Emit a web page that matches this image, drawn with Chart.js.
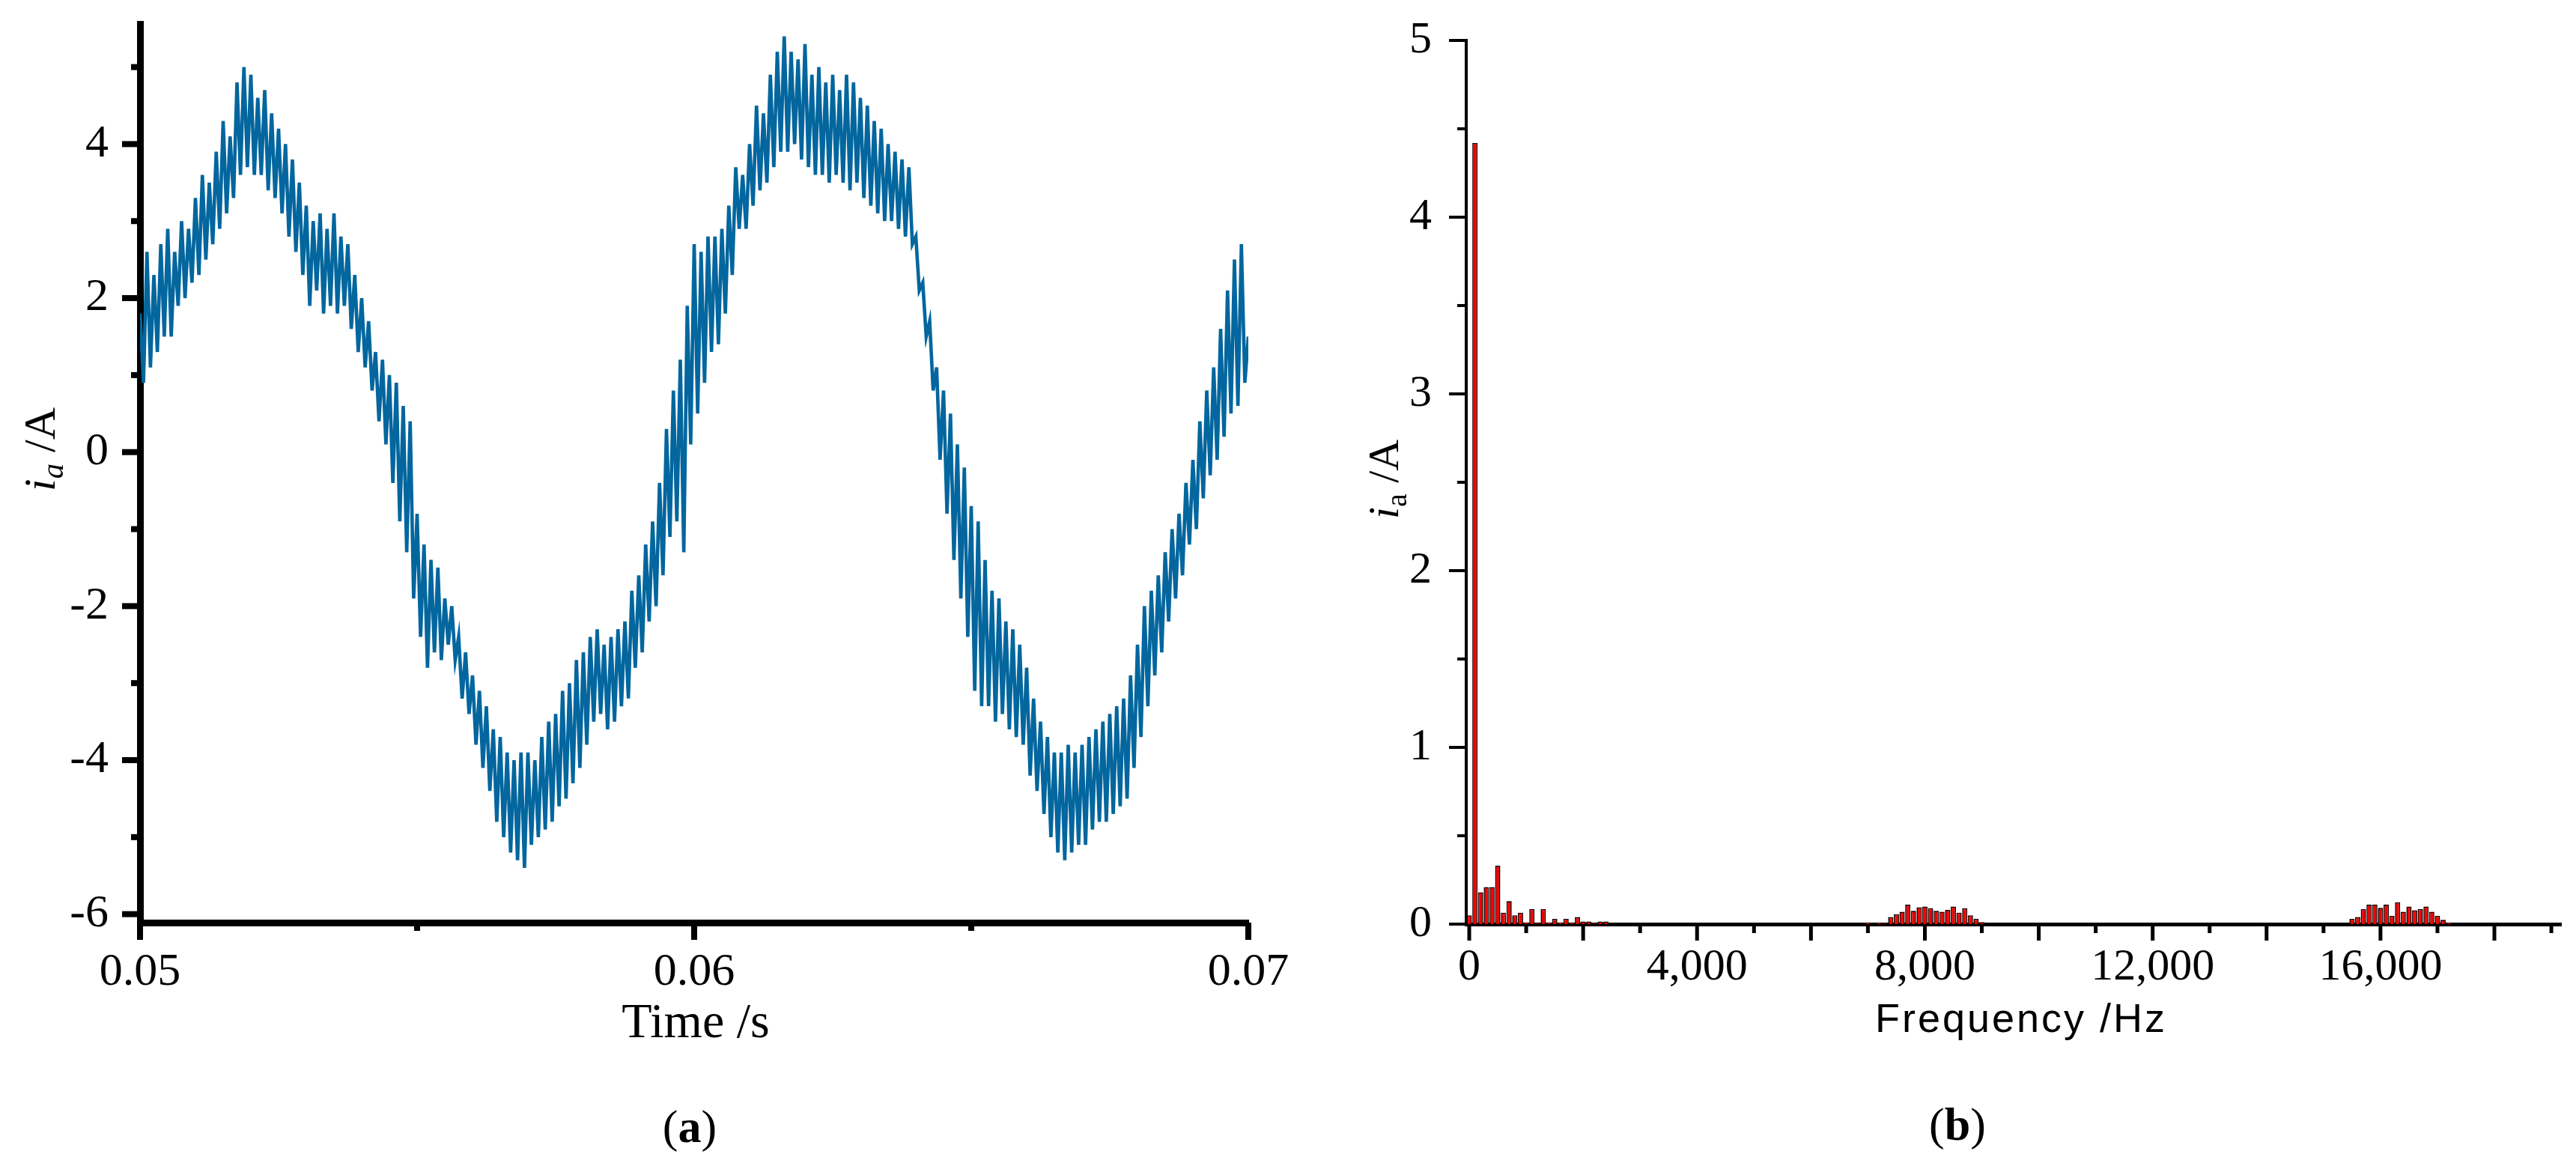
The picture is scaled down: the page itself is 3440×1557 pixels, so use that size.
<!DOCTYPE html>
<html>
<head>
<meta charset="utf-8">
<title>Phase current and spectrum</title>
<script src="https://cdn.jsdelivr.net/npm/chart.js@4.4.1/dist/chart.umd.min.js"></script>
<style>
  html, body { margin: 0; padding: 0; background: #fff; }
  body { width: 3440px; height: 1557px; position: relative; overflow: hidden; }
  canvas { position: absolute; top: 0; }
  .lbl { position: absolute; white-space: nowrap; line-height: 1; color: #000; }
  .serif { font-family: "Liberation Serif", "Times New Roman", serif; }
  .sans { font-family: "Liberation Sans", Arial, sans-serif; }
  .rot { transform: translate(-50%, -50%) rotate(-90deg); }
  .center { transform: translateX(-50%); }
  sub { font-size: 0.68em; vertical-align: -0.28em; line-height: 0; }
</style>
</head>
<body>
<canvas id="waveChart" width="1800" height="1557" style="left:0px"></canvas>
<canvas id="spectrumChart" width="1640" height="1557" style="left:1800px"></canvas>

<div class="lbl serif rot" style="left:53px; top:600px; font-size:60px;"><i>i</i><sub><i>a</i></sub> /A</div>
<div class="lbl serif center" style="left:929px; top:1330px; font-size:66px;">Time /s</div>
<div class="lbl serif center" style="left:921px; top:1473px; font-size:62px;">(<b>a</b>)</div>

<div class="lbl serif rot" style="left:1848px; top:640px; font-size:58px;"><i>i</i><sub>a</sub> /A</div>
<div class="lbl sans center" style="left:2699px; top:1332px; font-size:54px; letter-spacing:3px;">Frequency /Hz</div>
<div class="lbl serif center" style="left:2614px; top:1470px; font-size:62px;">(<b>b</b>)</div>

<script>
// (a) phase current, sampled twice per 8 kHz ripple period
const timeStart = 0.05;
const timeStep = 0.0000625;
const currentA = [
  1.8, 0.9, 2.6, 1.1, 2.3, 1.3, 2.7, 1.5, 2.9, 1.5, 2.6, 1.9, 3.0, 2.0, 2.9, 2.2,
  3.3, 2.3, 3.6, 2.5, 3.5, 2.7, 3.9, 2.9, 4.3, 3.1, 4.1, 3.3, 4.8, 3.6, 5.0, 3.7,
  4.9, 3.6, 4.6, 3.6, 4.7, 3.4, 4.4, 3.3, 4.2, 3.1, 4.0, 2.8, 3.8, 2.6, 3.5, 2.3,
  3.2, 1.9, 3.0, 2.1, 3.1, 1.8, 2.9, 1.9, 3.1, 1.8, 2.8, 1.9, 2.7, 1.6, 2.3, 1.3,
  2.0, 1.1, 1.7, 0.8, 1.3, 0.4, 1.2, 0.1, 1.0, -0.4, 0.9, -0.9, 0.6, -1.3, 0.4, -1.9,
  -0.8, -2.4, -1.2, -2.8, -1.4, -2.6, -1.5, -2.7, -1.9, -2.5, -2.0, -2.7, -2.4, -3.2, -2.6, -3.4,
  -2.9, -3.8, -3.1, -4.1, -3.3, -4.4, -3.6, -4.8, -3.7, -5.0, -3.9, -5.2, -4.0, -5.3, -3.9, -5.4,
  -3.9, -5.1, -4.0, -5.0, -3.7, -4.9, -3.5, -4.8, -3.4, -4.6, -3.1, -4.5, -3.0, -4.3, -2.7, -4.1,
  -2.6, -3.8, -2.4, -3.5, -2.3, -3.4, -2.5, -3.6, -2.4, -3.5, -2.3, -3.3, -2.2, -3.2, -1.8, -2.8,
  -1.6, -2.6, -1.2, -2.2, -0.9, -2.0, -0.4, -1.6, 0.3, -1.1, 0.8, -0.9, 1.2, -1.3, 1.9, 0.1,
  2.7, 0.5, 2.6, 0.9, 2.8, 1.3, 2.8, 1.4, 2.9, 1.8, 3.2, 2.3, 3.7, 2.9, 3.6, 2.9,
  4.0, 3.2, 4.5, 3.4, 4.4, 3.5, 4.9, 3.7, 5.2, 3.9, 5.4, 3.9, 5.2, 4.0, 5.1, 3.8,
  5.3, 3.7, 4.9, 3.6, 5.0, 3.6, 4.8, 3.5, 4.9, 3.6, 4.7, 3.5, 4.9, 3.4, 4.8, 3.5,
  4.6, 3.3, 4.5, 3.2, 4.3, 3.1, 4.2, 3.0, 4.0, 3.0, 3.9, 2.9, 3.8, 2.8, 3.7, 2.7,
  2.8, 2.1, 2.2, 1.5, 1.7, 0.8, 1.1, -0.1, 0.8, -0.8, 0.5, -1.4, 0.1, -1.9, -0.2, -2.4,
  -0.7, -3.1, -0.9, -3.3, -1.4, -3.3, -1.8, -3.5, -1.9, -3.4, -2.2, -3.6, -2.3, -3.7, -2.5, -3.8,
  -2.8, -4.2, -3.2, -4.4, -3.5, -4.7, -3.7, -5.0, -3.9, -5.2, -3.9, -5.3, -3.8, -5.2, -3.9, -5.1,
  -3.8, -5.1, -3.7, -4.9, -3.6, -4.8, -3.5, -4.8, -3.4, -4.7, -3.3, -4.6, -3.2, -4.5, -2.9, -4.1,
  -2.5, -3.7, -2.0, -3.3, -1.8, -2.9, -1.6, -2.6, -1.3, -2.2, -1.0, -1.9, -0.8, -1.6, -0.4, -1.2,
  -0.1, -1.0, 0.4, -0.6, 0.8, -0.3, 1.1, -0.1, 1.6, 0.2, 2.1, 0.5, 2.5, 0.6, 2.7, 0.9,
  1.5
];
const timeTicks = [0.05, 0.06, 0.07];
const timeMinorTicks = [0.055, 0.065];
const currentTicks = [-6, -4, -2, 0, 2, 4];
const currentMinorTicks = [-5, -3, -1, 1, 3, 5];

// (b) spectrum, 100 Hz bins (empty bins left out)
const freqHz = [
  0, 100, 200, 300, 400, 500, 600, 700, 800, 900, 1000, 1100, 1200,
  1300, 1400, 1500, 1600, 1700, 1800, 1900, 2000, 2100, 2200, 2300, 2400,
  7000, 7200, 7300, 7400, 7500, 7600, 7700, 7800, 7900, 8000,
  8100, 8200, 8300, 8400, 8500, 8600, 8700, 8800, 8900, 9000,
  15500, 15600, 15700, 15800, 15900, 16000, 16100, 16200, 16300,
  16400, 16500, 16600, 16700, 16800, 16900, 17000, 17100, 17200
];
const ampA = [
  0.05, 4.42, 0.18, 0.21, 0.21, 0.33, 0.065, 0.13, 0.05, 0.065, 0.01, 0.085, 0.005,
  0.085, 0.01, 0.03, 0.01, 0.03, 0.01, 0.04, 0.015, 0.015, 0.005, 0.015, 0.015,
  0.01, 0.01, 0.005, 0.04, 0.055, 0.07, 0.11, 0.075, 0.095, 0.1,
  0.09, 0.075, 0.07, 0.08, 0.1, 0.065, 0.09, 0.05, 0.03, 0.012,
  0.03, 0.04, 0.085, 0.11, 0.11, 0.092, 0.11, 0.047, 0.123,
  0.07, 0.1, 0.078, 0.085, 0.1, 0.07, 0.047, 0.024, 0.01
];
const freqLabelTicks = [0, 4000, 8000, 12000, 16000];
const freqMajorTicks = [0, 2000, 4000, 6000, 8000, 10000, 12000, 14000, 16000, 18000];
const freqMinorTicks = [1000, 3000, 5000, 7000, 9000, 11000, 13000, 15000, 17000, 19000];
const ampTicks = [0, 1, 2, 3, 4, 5];
const ampMinorTicks = [0.5, 1.5, 2.5, 3.5, 4.5];

Chart.defaults.font.family = '"Liberation Serif", "Times New Roman", serif';
Chart.defaults.color = '#000';

// fixed axis box so the plot area lands where the figure has it
function fixBox(size) {
  return scale => {
    if (scale.isHorizontal()) scale.height = size;
    else scale.width = size;
    scale.paddingLeft = scale.paddingRight = scale.paddingTop = scale.paddingBottom = 0;
  };
}

function useTicks(values) {
  return scale => { scale.ticks = values.map(v => ({ value: v })); };
}

// outward tick marks, major and minor, placed by the chart's own scales
function tickMarkPlugin(marks) {
  return {
    id: 'tickMarks',
    afterDraw(chart) {
      const ctx = chart.ctx;
      ctx.save();
      ctx.strokeStyle = '#000';
      marks.forEach(m => {
        const scale = chart.scales[m.axis];
        ctx.lineWidth = m.width;
        m.values.forEach(v => {
          const p = scale.getPixelForValue(v);
          ctx.beginPath();
          if (scale.isHorizontal()) {
            ctx.moveTo(p, scale.top);
            ctx.lineTo(p, scale.top + m.length);
          } else {
            ctx.moveTo(scale.right, p);
            ctx.lineTo(scale.right - m.length, p);
          }
          ctx.stroke();
        });
      });
      ctx.restore();
    }
  };
}

const wavePoints = currentA.map((v, i) => ({ x: timeStart + i * timeStep, y: v }));

new Chart(document.getElementById('waveChart'), {
  type: 'line',
  data: {
    datasets: [{
      data: wavePoints,
      borderColor: '#03669e',
      borderWidth: 4.6,
      pointRadius: 0,
      tension: 0
    }]
  },
  options: {
    responsive: false,
    animation: false,
    layout: { padding: { left: 0, top: 32, right: 133, bottom: 0 } },
    plugins: { legend: { display: false }, tooltip: { enabled: false } },
    scales: {
      x: {
        type: 'linear',
        min: 0.05,
        max: 0.07,
        afterFit: fixBox(325),
        afterBuildTicks: useTicks(timeTicks),
        grid: { display: false, drawTicks: false },
        border: { display: true, width: 9, color: '#000' },
        ticks: { font: { size: 62 }, padding: 30, maxRotation: 0, autoSkip: false,
                  callback: v => v.toFixed(2) }
      },
      y: {
        min: -6.11,
        max: 5.56,
        afterFit: fixBox(187),
        afterBuildTicks: useTicks(currentTicks),
        grid: { display: false, drawTicks: false },
        border: { display: true, width: 9, color: '#000' },
        ticks: { font: { size: 62 }, padding: 42, callback: v => String(v) }
      }
    }
  },
  plugins: [tickMarkPlugin([
    { axis: 'x', values: timeTicks, length: 23, width: 8 },
    { axis: 'x', values: timeMinorTicks, length: 11, width: 8 },
    { axis: 'y', values: currentTicks, length: 24, width: 8 },
    { axis: 'y', values: currentMinorTicks, length: 12, width: 8 }
  ])]
});

new Chart(document.getElementById('spectrumChart'), {
  type: 'bar',
  data: {
    datasets: [{
      data: freqHz.map((f, i) => ({ x: f, y: ampA[i] })),
      backgroundColor: '#f00000',
      borderColor: '#1a0000',
      borderWidth: 1.6,
      barPercentage: 1,
      categoryPercentage: 0.92
    }]
  },
  options: {
    responsive: false,
    animation: false,
    layout: { padding: { left: 0, top: 54, right: 20, bottom: 0 } },
    plugins: { legend: { display: false }, tooltip: { enabled: false } },
    scales: {
      x: {
        type: 'linear',
        min: -53,
        max: 19170,
        offset: false,
        afterFit: fixBox(323),
        afterBuildTicks: useTicks(freqLabelTicks),
        grid: { display: false, drawTicks: false, offset: false },
        border: { display: true, width: 5, color: '#000' },
        ticks: { font: { size: 60 }, padding: 22, maxRotation: 0, autoSkip: false,
                  callback: v => v.toLocaleString('en-US') }
      },
      y: {
        min: 0,
        max: 5,
        afterFit: fixBox(158),
        afterBuildTicks: useTicks(ampTicks),
        grid: { display: false, drawTicks: false },
        border: { display: true, width: 4, color: '#000' },
        ticks: { font: { size: 60 }, padding: 46, callback: v => String(v) }
      }
    }
  },
  plugins: [tickMarkPlugin([
    { axis: 'x', values: freqMajorTicks, length: 22, width: 5 },
    { axis: 'x', values: freqMinorTicks, length: 12, width: 5 },
    { axis: 'y', values: ampTicks, length: 23, width: 4 },
    { axis: 'y', values: ampMinorTicks, length: 12, width: 4 }
  ])]
});
</script>
</body>
</html>
